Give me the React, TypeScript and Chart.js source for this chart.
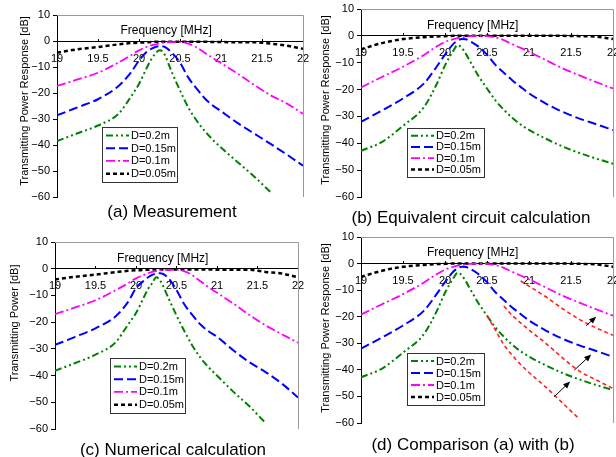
import React, { useEffect, useRef } from 'react';
import { Chart, registerables } from 'chart.js';

Chart.register(...registerables);

const FONT = '"Liberation Sans", Arial, Helvetica, sans-serif';

// ---------- data ----------
const FREQ = [19, 19.25, 19.5, 19.75, 19.9, 20, 20.1, 20.15, 20.2, 20.25, 20.3, 20.4, 20.5, 20.6, 20.7, 20.8, 20.9, 21, 21.2, 21.4, 21.6, 21.8, 22];
const X_TICKS = [19, 19.5, 20, 20.5, 21, 21.5, 22];
const Y_TICKS = [-60, -50, -40, -30, -20, -10, 0, 10];
const LABELS = ['D=0.2m', 'D=0.15m', 'D=0.1m', 'D=0.05m'];

// (a) Measurement
const A_02 = [-38.5, -35.5, -32.5, -28, -21.5, -16.5, -10, -7, -4.8, -3.6, -4.5, -12, -19, -25.5, -30.5, -34.5, -38, -41, -46.5, -52, -58, null, null];
const A_015 = [-28.6, -25.5, -22.4, -17.3, -12.2, -7.5, -4, -3, -2.3, -2, -2.1, -4.5, -8.3, -14, -18.2, -22, -24.8, -27, -31.5, -35.5, -39.5, -43.6, -48];
const A_01 = [-17.3, -14.8, -12.2, -8.3, -5.5, -3.6, -2.2, -1.7, -1.3, -0.9, -0.6, -0.4, -0.4, -1, -2.4, -4.5, -6.5, -8.5, -12.5, -16.8, -20.8, -24, -28];
const A_005 = [-4.5, -3.2, -2.3, -1.3, -0.8, -0.6, -0.5, -0.4, -0.3, -0.3, -0.3, -0.3, -0.3, -0.3, -0.3, -0.3, -0.4, -0.4, -0.5, -0.5, -1.0, -1.8, -3];

// (b) Equivalent circuit calculation (also used in (d))
const B_02 = [-42.8, -39.5, -33.5, -26.5, -18, -11, -5.5, -3.4, -4.5, -6.8, -9.6, -15, -19.6, -24, -27.5, -30.5, -33, -35, -38.3, -41.2, -43.6, -45.7, -47.6];
const B_015 = [-32, -27.8, -23.3, -17.7, -11.5, -7, -3, -1.8, -1.2, -1.3, -2, -4, -7, -10.8, -13.7, -16.5, -19, -21.4, -25.2, -28.3, -30.8, -32.9, -35.1];
const B_01 = [-19.2, -15.3, -11.5, -7.1, -4, -2.3, -1.2, -0.8, -0.5, -0.3, -0.1, 0, -0.1, -0.6, -1.6, -3.1, -4.5, -5.9, -9, -12.1, -14.7, -17.2, -19.6];
const B_005 = [-5, -2.7, -1.2, -0.5, -0.2, -0.1, 0, 0, 0, 0, 0, 0, 0, 0, 0, 0, 0, 0, 0, 0, -0.1, -0.3, -1.2];

// (c) Numerical calculation
const C_02 = [-38.2, -35.3, -32.2, -27.5, -21, -16.6, -10.5, -7.5, -5.4, -3.2, -4.5, -11, -17.5, -23.5, -29, -33.5, -37, -40, -46, -51.5, -57.8, null, null];
const C_015 = [-28.5, -25.5, -22.3, -17.8, -12.5, -7.3, -4.4, -3.2, -2.3, -1.8, -1.7, -3.5, -8, -13.5, -17.5, -21, -23.5, -25.5, -30.5, -35, -38.7, -43, -48.2];
const C_01 = [-17, -14.5, -11.8, -8, -5.5, -3.6, -2.3, -1.7, -1.2, -0.9, -0.6, -0.4, -0.4, -1, -2.5, -4.8, -7, -9, -13, -17.3, -21.2, -24.5, -27.7];
const C_005 = [-4, -3, -2.2, -1.3, -0.8, -0.6, -0.5, -0.4, -0.3, -0.3, -0.3, -0.3, -0.3, -0.3, -0.3, -0.3, -0.3, -0.4, -0.4, -0.4, -1.2, -1.8, -3.2];

// (d) red measured curves overlaid
const D_R01 = [null, null, null, null, null, null, null, null, null, null, null, null, null, null, null, null, -6.5, -8.5, -12.5, -17, -21, -24.2, -27];
const D_R015 = [null, null, null, null, null, null, null, null, null, null, null, null, null, null, -16, -19.5, -22.3, -25, -30, -35.5, -40.5, -43.8, -47];
const D_R02 = [null, null, null, null, null, null, null, null, null, null, null, null, -19.6, -25, -30.5, -34.5, -38, -41, -46.5, -52.5, -58.5, null, null];
// arrows in (d): [fromFreq, fromDb, toFreq, toDb]
const D_ARROWS = [
  [21.68, -23.4, 21.8, -20.0],
  [21.54, -40.1, 21.74, -34.2],
  [21.3, -50.1, 21.49, -44.4],
];

// ---------- styles ----------
type Style = { color: string; width: number; dash: number[] };
const STY: Style[] = [
  { color: '#008000', width: 2, dash: [7, 3, 2, 3, 2, 3] },
  { color: '#0000ff', width: 2, dash: [9, 4] },
  { color: '#ff00ff', width: 1.8, dash: [9, 3, 2, 3] },
  { color: '#000000', width: 2.5, dash: [4, 3] },
];
const RED: Style = { color: '#ff2020', width: 1.6, dash: [4, 3] };

function pts(values: (number | null)[]) {
  const out: { x: number; y: number }[] = [];
  FREQ.forEach((f, i) => {
    const v = values[i];
    if (v !== null && v !== undefined) out.push({ x: f, y: v });
  });
  return out;
}

function mkDs(label: string, values: (number | null)[], s: Style, inLegend: boolean) {
  return {
    label,
    data: pts(values),
    borderColor: s.color,
    backgroundColor: s.color,
    borderWidth: s.width,
    borderDash: s.dash,
    pointRadius: 0,
    fill: false,
    cubicInterpolationMode: 'monotone',
    showInLegend: inLegend,
  } as any;
}

const decorPlugin = {
  id: 'decor',
  beforeDatasetsDraw(chart: any, _a: any, opts: any) {
    const { ctx, chartArea: a } = chart;
    ctx.save();
    ctx.strokeStyle = '#9a9a9a';
    ctx.lineWidth = 1;
    ctx.setLineDash([]);
    ctx.beginPath();
    ctx.moveTo(a.left, Math.round(a.top) + 0.5);
    ctx.lineTo(Math.round(a.right) + 0.5, Math.round(a.top) + 0.5);
    ctx.lineTo(Math.round(a.right) + 0.5, a.bottom);
    ctx.stroke();
    ctx.restore();
  },
  afterDraw(chart: any, _a: any, opts: any) {
    const { ctx, scales } = chart;
    const xs = scales.x;
    const ys = scales.y;
    ctx.save();
    ctx.setLineDash([]);
    // Frequency label
    ctx.fillStyle = '#000';
    ctx.font = `12px ${FONT}`;
    ctx.textAlign = 'center';
    ctx.textBaseline = 'middle';
    ctx.fillText('Frequency [MHz]', xs.getPixelForValue(20.33), ys.getPixelForValue(0) - 10.5);
    // Y title
    ctx.save();
    ctx.translate(opts.yTitle.x, opts.yTitle.y);
    ctx.rotate(-Math.PI / 2);
    ctx.font = `11px ${FONT}`;
    ctx.fillText(opts.yTitle.text, 0, 0);
    ctx.restore();
    // arrows
    (opts.arrows || []).forEach((ar: number[]) => {
      const x1 = xs.getPixelForValue(ar[0]);
      const y1 = ys.getPixelForValue(ar[1]);
      const x2 = xs.getPixelForValue(ar[2]);
      const y2 = ys.getPixelForValue(ar[3]);
      const ang = Math.atan2(y2 - y1, x2 - x1);
      ctx.strokeStyle = '#000';
      ctx.fillStyle = '#000';
      ctx.lineWidth = 1;
      ctx.beginPath();
      ctx.moveTo(x1, y1);
      ctx.lineTo(x2 - 5 * Math.cos(ang), y2 - 5 * Math.sin(ang));
      ctx.stroke();
      const L = 7, W = 3;
      ctx.beginPath();
      ctx.moveTo(x2, y2);
      ctx.lineTo(x2 - L * Math.cos(ang) + W * Math.sin(ang), y2 - L * Math.sin(ang) - W * Math.cos(ang));
      ctx.lineTo(x2 - L * Math.cos(ang) - W * Math.sin(ang), y2 - L * Math.sin(ang) + W * Math.cos(ang));
      ctx.closePath();
      ctx.fill();
    });
    // legend
    const lg = opts.legend;
    ctx.fillStyle = '#fff';
    ctx.fillRect(lg.x, lg.y, lg.w, lg.h);
    ctx.strokeStyle = '#333';
    ctx.lineWidth = 1;
    ctx.strokeRect(lg.x + 0.5, lg.y + 0.5, lg.w, lg.h);
    const items = chart.data.datasets.filter((d: any) => d.showInLegend);
    const rowH = (lg.h - 4) / items.length;
    items.forEach((d: any, i: number) => {
      const cy = lg.y + 2 + rowH * (i + 0.5);
      ctx.strokeStyle = d.borderColor;
      ctx.lineWidth = d.borderWidth;
      ctx.setLineDash(d.borderDash);
      ctx.beginPath();
      ctx.moveTo(lg.x + 4, cy);
      ctx.lineTo(lg.x + 27, cy);
      ctx.stroke();
      ctx.setLineDash([]);
      ctx.fillStyle = '#000';
      ctx.font = `11px ${FONT}`;
      ctx.textAlign = 'left';
      ctx.textBaseline = 'middle';
      ctx.fillText(d.label, lg.x + 29, cy + 0.5);
    });
    ctx.restore();
  },
};

type Box = { left: number; top: number; width: number; height: number };
type Area = { l: number; t: number; r: number; b: number };
interface PanelCfg {
  canvas: Box;
  area: Area;
  yTitle: { text: string; x: number; y: number };
  legend: { x: number; y: number; w: number; h: number };
  datasets: any[];
  arrows?: number[][];
}

function Panel({ cfg }: { cfg: PanelCfg }) {
  const ref = useRef<HTMLCanvasElement>(null);
  useEffect(() => {
    const c = cfg.canvas;
    const a = cfg.area;
    const chart = new Chart(ref.current as HTMLCanvasElement, {
      type: 'line',
      data: { datasets: cfg.datasets },
      plugins: [decorPlugin as any],
      options: {
        animation: false,
        responsive: false,
        devicePixelRatio: 1,
        layout: {
          padding: {
            left: 0,
            top: a.t - c.top,
            right: c.left + c.width - a.r,
            bottom: c.top + c.height - a.b,
          },
        },
        plugins: {
          legend: { display: false },
          tooltip: { enabled: false },
          decor: {
            yTitle: { text: cfg.yTitle.text, x: cfg.yTitle.x - c.left, y: cfg.yTitle.y - c.top },
            legend: { x: cfg.legend.x - c.left, y: cfg.legend.y - c.top, w: cfg.legend.w, h: cfg.legend.h },
            arrows: cfg.arrows || [],
          },
        } as any,
        scales: {
          x: {
            type: 'linear',
            min: 19,
            max: 22,
            position: { y: 0 } as any,
            afterFit(s: any) { s.paddingLeft = 0; s.paddingRight = 0; s.paddingTop = 0; s.paddingBottom = 0; },
            afterBuildTicks(s: any) { s.ticks = X_TICKS.map((v) => ({ value: v })); },
            ticks: {
              color: '#000',
              font: { family: FONT, size: 11 },
              padding: 14,
              maxRotation: 0,
              autoSkip: false,
              callback: (v: any) => String(v),
            },
            grid: { display: true, drawOnChartArea: false, tickLength: -3, color: '#000' },
            border: { display: true, color: '#000', width: 1 },
          },
          y: {
            type: 'linear',
            min: -60,
            max: 10,
            position: 'left',
            afterFit(s: any) { s.width = a.l - c.left; s.paddingTop = 0; s.paddingBottom = 0; },
            afterBuildTicks(s: any) { s.ticks = Y_TICKS.map((v) => ({ value: v })); },
            ticks: {
              color: '#000',
              font: { family: FONT, size: 11 },
              padding: 3,
              callback: (v: any) => (Number(v) < 0 ? '\u2212' + Math.abs(Number(v)) : String(v)),
            },
            grid: { display: true, drawOnChartArea: false, tickLength: 4, color: '#000' },
            border: { display: true, color: '#000', width: 1 },
          },
        },
      } as any,
    });
    return () => chart.destroy();
  }, []);
  const c = cfg.canvas;
  return (
    <canvas
      ref={ref}
      width={c.width}
      height={c.height}
      style={{ position: 'absolute', left: c.left, top: c.top, width: c.width, height: c.height }}
    />
  );
}

const mainSets = (v02: any, v015: any, v01: any, v005: any) => [
  mkDs(LABELS[0], v02, STY[0], true),
  mkDs(LABELS[1], v015, STY[1], true),
  mkDs(LABELS[2], v01, STY[2], true),
  mkDs(LABELS[3], v005, STY[3], true),
];

const PANELS: PanelCfg[] = [
  {
    canvas: { left: 0, top: 0, width: 316, height: 228 },
    area: { l: 57, t: 15, r: 303, b: 197 },
    yTitle: { text: 'Transmitting Power Response [dB]', x: 25, y: 101 },
    legend: { x: 102, y: 127, w: 75, h: 55 },
    datasets: mainSets(A_02, A_015, A_01, A_005),
  },
  {
    canvas: { left: 300, top: 0, width: 316, height: 228 },
    area: { l: 361, t: 9, r: 613, b: 197 },
    yTitle: { text: 'Transmitting Power Response [dB]', x: 326, y: 100 },
    legend: { x: 407, y: 128, w: 77, h: 49 },
    datasets: mainSets(B_02, B_015, B_01, B_005),
  },
  {
    canvas: { left: 0, top: 228, width: 316, height: 229 },
    area: { l: 55, t: 242, r: 298, b: 429 },
    yTitle: { text: 'Transmitting Power [dB]', x: 15, y: 323 },
    legend: { x: 110, y: 358, w: 75, h: 55 },
    datasets: mainSets(C_02, C_015, C_01, C_005),
  },
  {
    canvas: { left: 300, top: 228, width: 316, height: 229 },
    area: { l: 361, t: 237, r: 613, b: 423 },
    yTitle: { text: 'Transmitting Power Response [dB]', x: 326, y: 328 },
    legend: { x: 407, y: 353, w: 77, h: 52 },
    datasets: [
      mkDs('red1', D_R01, RED, false),
      mkDs('red2', D_R015, RED, false),
      mkDs('red3', D_R02, RED, false),
      ...mainSets(B_02, B_015, B_01, B_005),
    ],
    arrows: D_ARROWS,
  },
];

const CAPTIONS = [
  { text: '(a) Measurement', x: 172, y: 212 },
  { text: '(b) Equivalent circuit calculation', x: 471, y: 218 },
  { text: '(c) Numerical calculation', x: 173, y: 450 },
  { text: '(d) Comparison (a) with (b)', x: 473, y: 445 },
];

export default function App() {
  return (
    <div style={{ position: 'fixed', left: 0, top: 0, width: 616, height: 457, background: '#fff', overflow: 'hidden' }}>
      {PANELS.map((p, i) => (
        <Panel key={i} cfg={p} />
      ))}
      {CAPTIONS.map((c, i) => (
        <div
          key={'c' + i}
          style={{
            position: 'absolute',
            left: c.x - 160,
            width: 320,
            top: c.y - 10,
            height: 20,
            lineHeight: '20px',
            textAlign: 'center',
            fontFamily: FONT,
            fontSize: 17,
            color: '#000',
            whiteSpace: 'nowrap',
          }}
        >
          {c.text}
        </div>
      ))}
    </div>
  );
}
